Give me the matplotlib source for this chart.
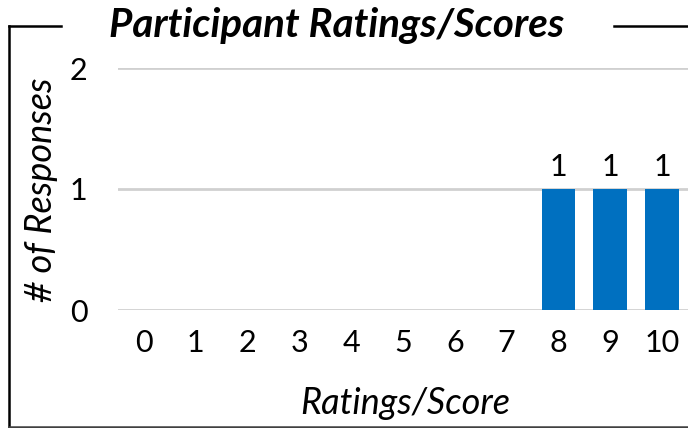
import matplotlib.pyplot as plt
from matplotlib.lines import Line2D

# ratings and counts
ratings = [0, 1, 2, 3, 4, 5, 6, 7, 8, 9, 10]
counts = [0, 0, 0, 0, 0, 0, 0, 0, 1, 1, 1]
y_ticks = [0, 1, 2]

plt.rcParams['font.family'] = ['Lato', 'DejaVu Sans']

fig = plt.figure(figsize=(6.88, 4.28), dpi=100)
W, H = 688, 428
ax = fig.add_axes([118 / W, 1 - 310 / H, 570 / W, (310 - 68) / H])

bars = ax.bar(ratings, counts, width=0.65, color='#0070C0', zorder=3)
for r, c in zip(ratings, counts):
    if c > 0:
        ax.text(r, c + 0.07, str(c), ha='center', va='bottom', fontsize=22)

ax.set_xlim(-0.5, 10.5)
ax.set_ylim(0, 2)
ax.set_xticks(ratings)
ax.set_xticklabels([str(r) for r in ratings])
ax.set_yticks(y_ticks)
ax.tick_params(length=0, labelsize=22, pad=14)
ax.tick_params(axis='y', pad=22)
ax.grid(axis='y', color='#D0D0D0', lw=2, zorder=0)
for s in ax.spines.values():
    s.set_visible(False)
ax.set_axisbelow(True)

fig.text(42 / W, 1 - 190 / H, '# of Responses', rotation=90, ha='center', va='center',
         fontsize=26, style='italic')
fig.text(405 / W, 1 - 403 / H, 'Ratings/Score', ha='center', va='center',
         fontsize=26, style='italic')
fig.text(337 / W, 1 - 25 / H, 'Participant Ratings/Scores', ha='center', va='center',
         fontsize=29, style='italic', weight='bold')

# outer frame, broken by the title
frame = dict(color='black', lw=1.8, transform=fig.transFigure)
fig.add_artist(Line2D([9 / W, 9 / W], [1 - 26 / H, 1 - 427 / H], **frame))
fig.add_artist(Line2D([9 / W, 61 / W], [1 - 26 / H, 1 - 26 / H], **frame))
fig.add_artist(Line2D([614 / W, 1], [1 - 26 / H, 1 - 26 / H], **frame))
fig.add_artist(Line2D([9 / W, 1], [1 - 427 / H, 1 - 427 / H], color='#404040', lw=1.8,
                      transform=fig.transFigure))

fig.savefig('out.png', dpi=100)
